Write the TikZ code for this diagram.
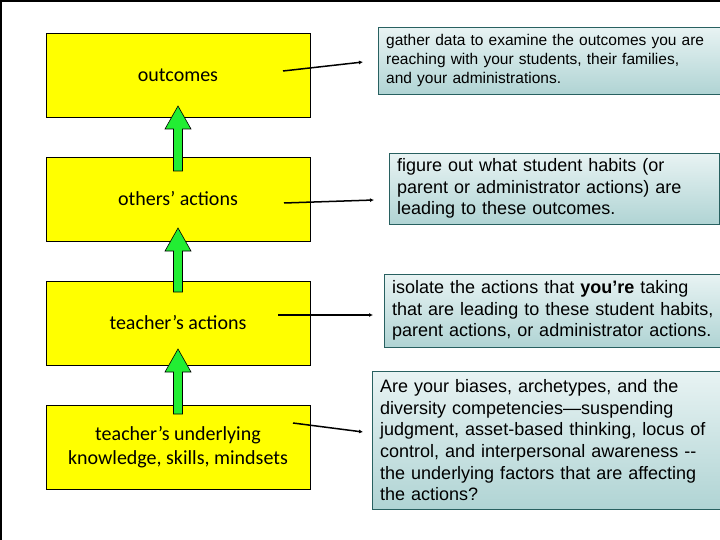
\documentclass[tikz,border=0pt]{standalone}
\usepackage{fontspec}
\setmainfont{Liberation Sans}
\newfontfamily\calibrifont{Carlito}
\usepackage{tikz}
\usetikzlibrary{positioning,calc,arrows.meta}
\definecolor{slideyellow}{RGB}{255,255,0}
\definecolor{arrowgreen}{RGB}{34,238,51}
\definecolor{boxedge}{RGB}{40,96,96}
\definecolor{boxtop}{RGB}{232,243,243}
\definecolor{boxbottom}{RGB}{176,212,212}

\begin{document}
\begin{tikzpicture}[x=1pt, y=-1pt,
    level/.style={draw=black, fill=slideyellow, minimum width=264pt, minimum height=84pt,
        inner sep=2pt, align=center, font=\calibrifont\fontsize{20}{24}\selectfont},
    note/.style={draw=boxedge, top color=boxtop, bottom color=boxbottom, anchor=north west,
        inner xsep=8pt, inner ysep=2pt, align=left},
    upgreen/.style={draw=black, fill=arrowgreen, line width=0.6pt},
    link/.style={line width=1.5pt, -{Latex[length=4pt,width=4pt]}}]
    \useasboundingbox (0,0) rectangle (720,540);
    \fill[white] (0,0) rectangle (720,540);
    \clip (0,0) rectangle (720,540);
    \draw[line width=1.5pt] (1,541) -- (1,1) -- (721,1);

    \node[level] (outcomes) at (178,75) {outcomes};
    \node[level] (others) at (178,199) {others’ actions};
    \node[level] (teacher) at (178,323) {teacher’s actions};
    \node[level] (under) at (178,447) {teacher’s underlying\\knowledge, skills, mindsets};

    \foreach \tip/\foot in {106/171, 228/292, 349/414}
        \draw[upgreen] (178,\tip) -- (191,\tip+23) -- (182.5,\tip+23) -- (182.5,\foot)
            -- (173.5,\foot) -- (173.5,\tip+23) -- (165,\tip+23) -- cycle;

    \node[note, text width=340pt, minimum height=67pt, font=\fontsize{15.5}{19}\selectfont] (gather) at (378,27)
        {gather data to examine the outcomes you are\\reaching with your students, their families,\\and your administrations.};
    \node[note, text width=314pt, minimum height=71pt, font=\fontsize{18}{21.5}\selectfont] (figure) at (389,153)
        {figure out what student habits (or\\parent or administrator actions) are\\leading to these outcomes.};
    \node[note, text width=330pt, minimum height=73pt, font=\fontsize{18}{21.5}\selectfont] (isolate) at (384,274)
        {isolate the actions that \textbf{you’re} taking\\that are leading to these student habits,\\parent actions, or administrator actions.};
    \node[note, text width=340pt, minimum height=138pt, font=\fontsize{18}{21.6}\selectfont] (biases) at (372,371)
        {Are your biases, archetypes, and the\\diversity competencies—suspending\\judgment, asset-based thinking, locus of\\control, and interpersonal awareness -{}-\\the underlying factors that are affecting\\the actions?};

    \coordinate (fromoutcomes) at (283,71);
    \coordinate (tooutcomes) at (363,62);
    \coordinate (fromothers) at (284,203);
    \coordinate (toothers) at (374,200);
    \coordinate (fromteacher) at (278,315);
    \coordinate (toteacher) at (373,315);
    \coordinate (fromunder) at (293,423);
    \coordinate (tounder) at (363,432);
    \draw[link] (fromoutcomes) -- (tooutcomes);
    \draw[link] (fromothers) -- (toothers);
    \draw[link] (fromteacher) -- (toteacher);
    \draw[link] (fromunder) -- (tounder);
\end{tikzpicture}
\end{document}
